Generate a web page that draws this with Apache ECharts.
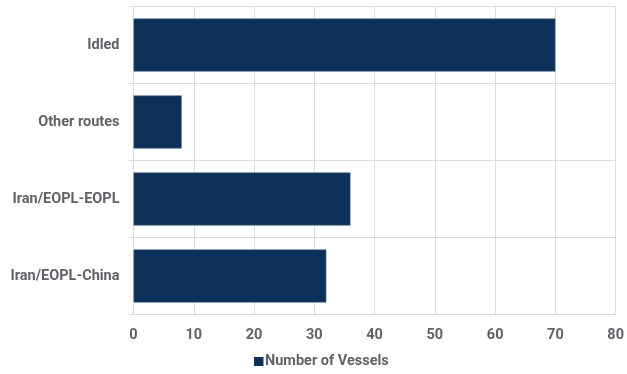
<!DOCTYPE html>
<html>
<head>
<meta charset="utf-8">
<script src="https://cdn.jsdelivr.net/npm/echarts@6/dist/echarts.min.js"></script>
<style>
html,body{margin:0;padding:0;background:#fff;}
#chart{width:627px;height:374px;}
</style>
</head>
<body>
<div id="chart"></div>
<script>
const categories = ["Iran/EOPL-China", "Iran/EOPL-EOPL", "Other routes", "Idled"];
const vessels = [32, 36, 8, 70];
const seriesName = "Number of Vessels";

const chart = echarts.init(document.getElementById('chart'), null, {renderer: 'canvas'});
const labelColor = '#5f6368';
const gridColor = '#dcdcdc';
const fs = 14.5;
chart.setOption({
  animation: false,
  textStyle: {fontFamily: 'Roboto'},
  grid: {left: 133.5, right: 9, top: 6.5, bottom: 59.5, containLabel: false},
  legend: {
    top: 354,
    left: 254,
    padding: 0,
    icon: 'rect',
    itemWidth: 9.5,
    itemHeight: 9,
    itemStyle: {borderWidth: 0},
    textStyle: {color: labelColor, fontSize: fs, fontWeight: 'bold', fontFamily: 'Roboto', padding: [0,0,0,-3.5]},
    data: [seriesName]
  },
  xAxis: {
    type: 'value',
    min: 0, max: 80, interval: 10,
    axisLine: {show: false},
    axisTick: {show: false},
    axisLabel: {color: labelColor, fontSize: fs, fontWeight: 'bold', margin: 13},
    splitLine: {show: true, lineStyle: {color: gridColor, width: 1}}
  },
  yAxis: {
    type: 'category',
    data: categories,
    axisLine: {show: false},
    axisTick: {show: true, length: 5, lineStyle: {color: gridColor}},
    axisLabel: {color: labelColor, fontSize: fs, fontWeight: 'bold', margin: 14},
    splitLine: {show: true, lineStyle: {color: gridColor, width: 1}}
  },
  series: [{
    name: seriesName,
    type: 'bar',
    data: vessels,
    barCategoryGap: '31%',
    itemStyle: {color: '#0d3058', borderColor: '#56708f', borderWidth: 0.6}
  }]
});
</script>
</body>
</html>
